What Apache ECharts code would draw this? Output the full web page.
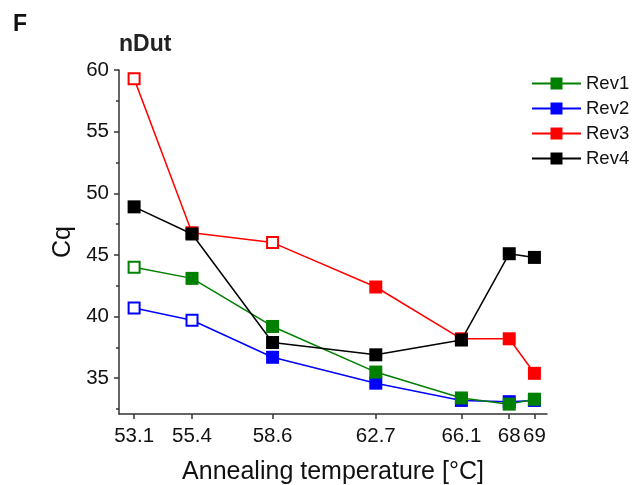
<!DOCTYPE html>
<html>
<head>
<meta charset="utf-8">
<script src="https://cdn.jsdelivr.net/npm/echarts@6/dist/echarts.min.js"></script>
<style>
  html, body { margin: 0; padding: 0; background: #fff; }
  #chart { width: 636px; height: 485px; }
</style>
</head>
<body>
<div id="chart"></div>
<script>
var temps = [53.1, 55.4, 58.6, 62.7, 66.1, 68, 69];
var rev1 = [44.0, 43.1, 39.2, 35.5, 33.4, 32.9, 33.3];
var rev2 = [40.7, 39.7, 36.7, 34.6, 33.2, 33.1, 33.2];
var rev3 = [59.3, 46.8, 46.0, 42.4, 38.2, 38.2, 35.4];
var rev4 = [48.9, 46.7, 37.9, 36.9, 38.1, 45.1, 44.8];
// open (hollow) markers
var rev1Open = [1, 0, 0, 0, 0, 0, 0];
var rev2Open = [1, 1, 0, 0, 0, 0, 0];
var rev3Open = [1, 0, 1, 0, 0, 0, 0];
var rev4Open = [0, 0, 0, 0, 0, 0, 0];
var yTicks = [35, 40, 45, 50, 55, 60];
var yMinorTicks = [32.5, 37.5, 42.5, 47.5, 52.5, 57.5];

var font = 'Liberation Sans, Arial, sans-serif';
var axisColor = '#333';

function makeSeries(name, values, open, color, z) {
  var data = values.map(function (v, i) {
    var item = { value: [temps[i], v] };
    if (open[i]) {
      item.symbolSize = 11;
      item.itemStyle = { color: '#fff', borderColor: color, borderWidth: 2 };
    }
    return item;
  });
  return {
    name: name,
    type: 'line',
    z: z,
    data: data,
    symbol: 'rect',
    symbolSize: 13,
    lineStyle: { color: color, width: 1.5 },
    itemStyle: { color: color },
    emphasis: { disabled: true }
  };
}

var chart = echarts.init(document.getElementById('chart'));
chart.setOption({
  backgroundColor: '#fff',
  animation: false,
  title: [
    { text: 'F', left: 8, top: 8, textStyle: { fontFamily: font, fontSize: 23, fontWeight: 'bold', color: '#111' } },
    { text: 'nDut', left: 114, top: 28, textStyle: { fontFamily: font, fontSize: 23, fontWeight: 'bold', color: '#222' } }
  ],
  legend: {
    orient: 'vertical',
    left: 531,
    top: 74,
    padding: 0,
    itemWidth: 49,
    itemHeight: 15,
    itemGap: 6,
    data: ['Rev1', 'Rev2', 'Rev3', 'Rev4'],
    textStyle: { fontFamily: font, fontSize: 18.5, color: '#111', padding: [0, 0, 0, 0] }
  },
  grid: { left: 119, right: 89, top: 70, bottom: 71, outerBoundsMode: 'none', containLabel: false },
  xAxis: {
    type: 'value',
    min: 52.5,
    max: 69.5,
    name: 'Annealing temperature [°C]',
    nameLocation: 'middle',
    nameGap: 46,
    nameTextStyle: { fontFamily: font, fontSize: 25, color: '#111' },
    axisLine: { lineStyle: { color: axisColor, width: 1.5 } },
    axisTick: { show: true, length: 5, customValues: temps, lineStyle: { color: axisColor, width: 1.5 } },
    axisLabel: { customValues: temps, margin: 12, fontFamily: font, fontSize: 20.5, color: '#111',
      formatter: function (v) { return String(v); } },
    splitLine: { show: false }
  },
  yAxis: [{
    type: 'value',
    min: 32.1,
    max: 60,
    name: 'Cq',
    nameLocation: 'middle',
    nameGap: 34,
    nameTextStyle: { fontFamily: font, fontSize: 25, color: '#111' },
    axisLine: { show: true, lineStyle: { color: axisColor, width: 1.5 } },
    axisTick: { show: true, length: 5, customValues: yTicks, lineStyle: { color: axisColor, width: 1.5 } },
    axisLabel: { customValues: yTicks, margin: 10, fontFamily: font, fontSize: 20.5, color: '#111' },
    splitLine: { show: false }
  }, {
    type: 'value',
    position: 'left',
    min: 32.1,
    max: 60,
    axisLine: { show: false },
    axisTick: { show: true, length: 3, customValues: yMinorTicks, lineStyle: { color: axisColor, width: 1.5 } },
    axisLabel: { show: false },
    splitLine: { show: false }
  }],
  series: [
    makeSeries('Rev1', rev1, rev1Open, '#008000', 4),
    makeSeries('Rev2', rev2, rev2Open, '#0000ff', 2),
    makeSeries('Rev3', rev3, rev3Open, '#ff0000', 3),
    makeSeries('Rev4', rev4, rev4Open, '#000000', 5)
  ]
});
</script>
</body>
</html>
